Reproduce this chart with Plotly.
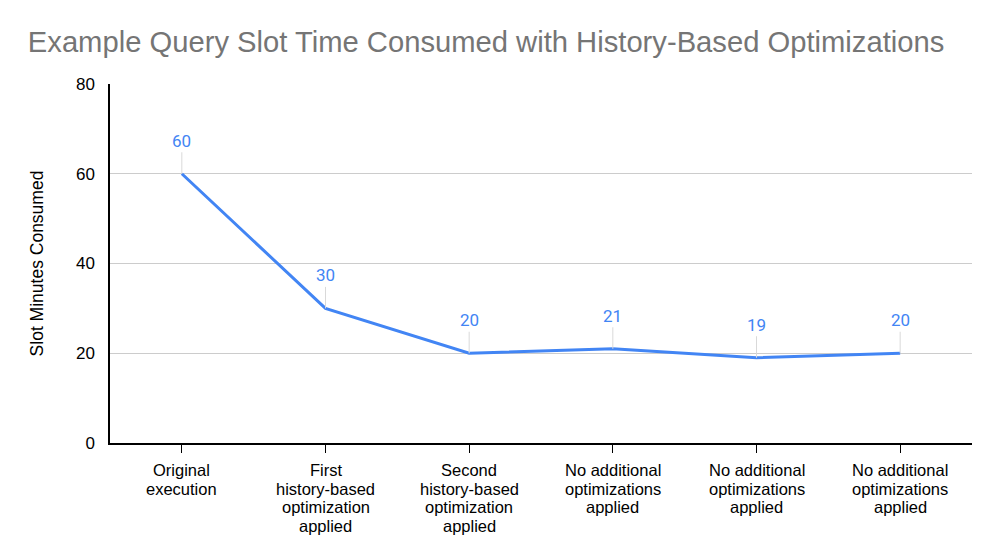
import plotly.graph_objects as go

categories = [
    "Original\nexecution",
    "First\nhistory-based\noptimization\napplied",
    "Second\nhistory-based\noptimization\napplied",
    "No additional\noptimizations\napplied",
    "No additional\noptimizations\napplied",
    "No additional\noptimizations\napplied",
]
slot_minutes = [60, 30, 20, 21, 19, 20]
y_ticks = [0, 20, 40, 60, 80]

x_idx = list(range(len(categories)))

fig = go.Figure()
fig.add_trace(go.Scatter(
    x=x_idx, y=slot_minutes, mode="lines",
    line=dict(color="#4285F4", width=3),
    hoverinfo="skip", showlegend=False,
))

# data labels with leader lines
for xi, v in zip(x_idx, slot_minutes):
    fig.add_annotation(
        x=xi, y=v, xref="x", yref="y", text=str(v),
        showarrow=True, arrowhead=0, arrowwidth=1, arrowcolor="#d9d9d9",
        ax=0, ay=-33, standoff=0,
        font=dict(family="Roboto, Arial, sans-serif", size=17, color="#4285F4"),
    )

# category labels (tight line spacing)
for xi, cat in zip(x_idx, categories):
    for li, line in enumerate(cat.split("\n")):
        fig.add_annotation(
            x=xi, y=0, xref="x", yref="paper", text=line,
            showarrow=False, xanchor="center", yanchor="middle",
            yshift=-(27 + li * 18.5), borderpad=0,
            font=dict(family="Liberation Sans, Arial, sans-serif", size=16.5, color="#000000"),
        )

fig.update_layout(
    width=992, height=543,
    margin=dict(l=102, r=28, t=76, b=108),
    paper_bgcolor="white", plot_bgcolor="white",
    title=dict(
        text="Example Query Slot Time Consumed with History-Based Optimizations",
        x=0.02, xanchor="left", y=0.937, yanchor="middle",
        font=dict(family="Liberation Sans, Arial, sans-serif", size=29.2, color="#757575"),
    ),
    font=dict(family="Liberation Sans, Arial, sans-serif", size=17, color="#000000"),
)
fig.update_xaxes(
    range=[-0.5, len(categories) - 0.5],
    tickmode="array", tickvals=x_idx, showticklabels=False,
    showline=True, linecolor="#000000", linewidth=1.5,
    ticks="outside", ticklen=8, tickcolor="#000000", tickwidth=1,
    showgrid=False, zeroline=False,
)
fig.update_yaxes(
    range=[0, 80], tickmode="array", tickvals=y_ticks,
    showline=True, linecolor="#000000", linewidth=1.5,
    showgrid=True, gridcolor="#cccccc", gridwidth=1, zeroline=False,
    ticks="", ticklabelstandoff=10,
    tickfont=dict(size=17, color="#000000"),
    title=dict(text="Slot Minutes Consumed", standoff=28,
               font=dict(size=17.5, color="#000000")),
)

fig.write_html("out.html")
